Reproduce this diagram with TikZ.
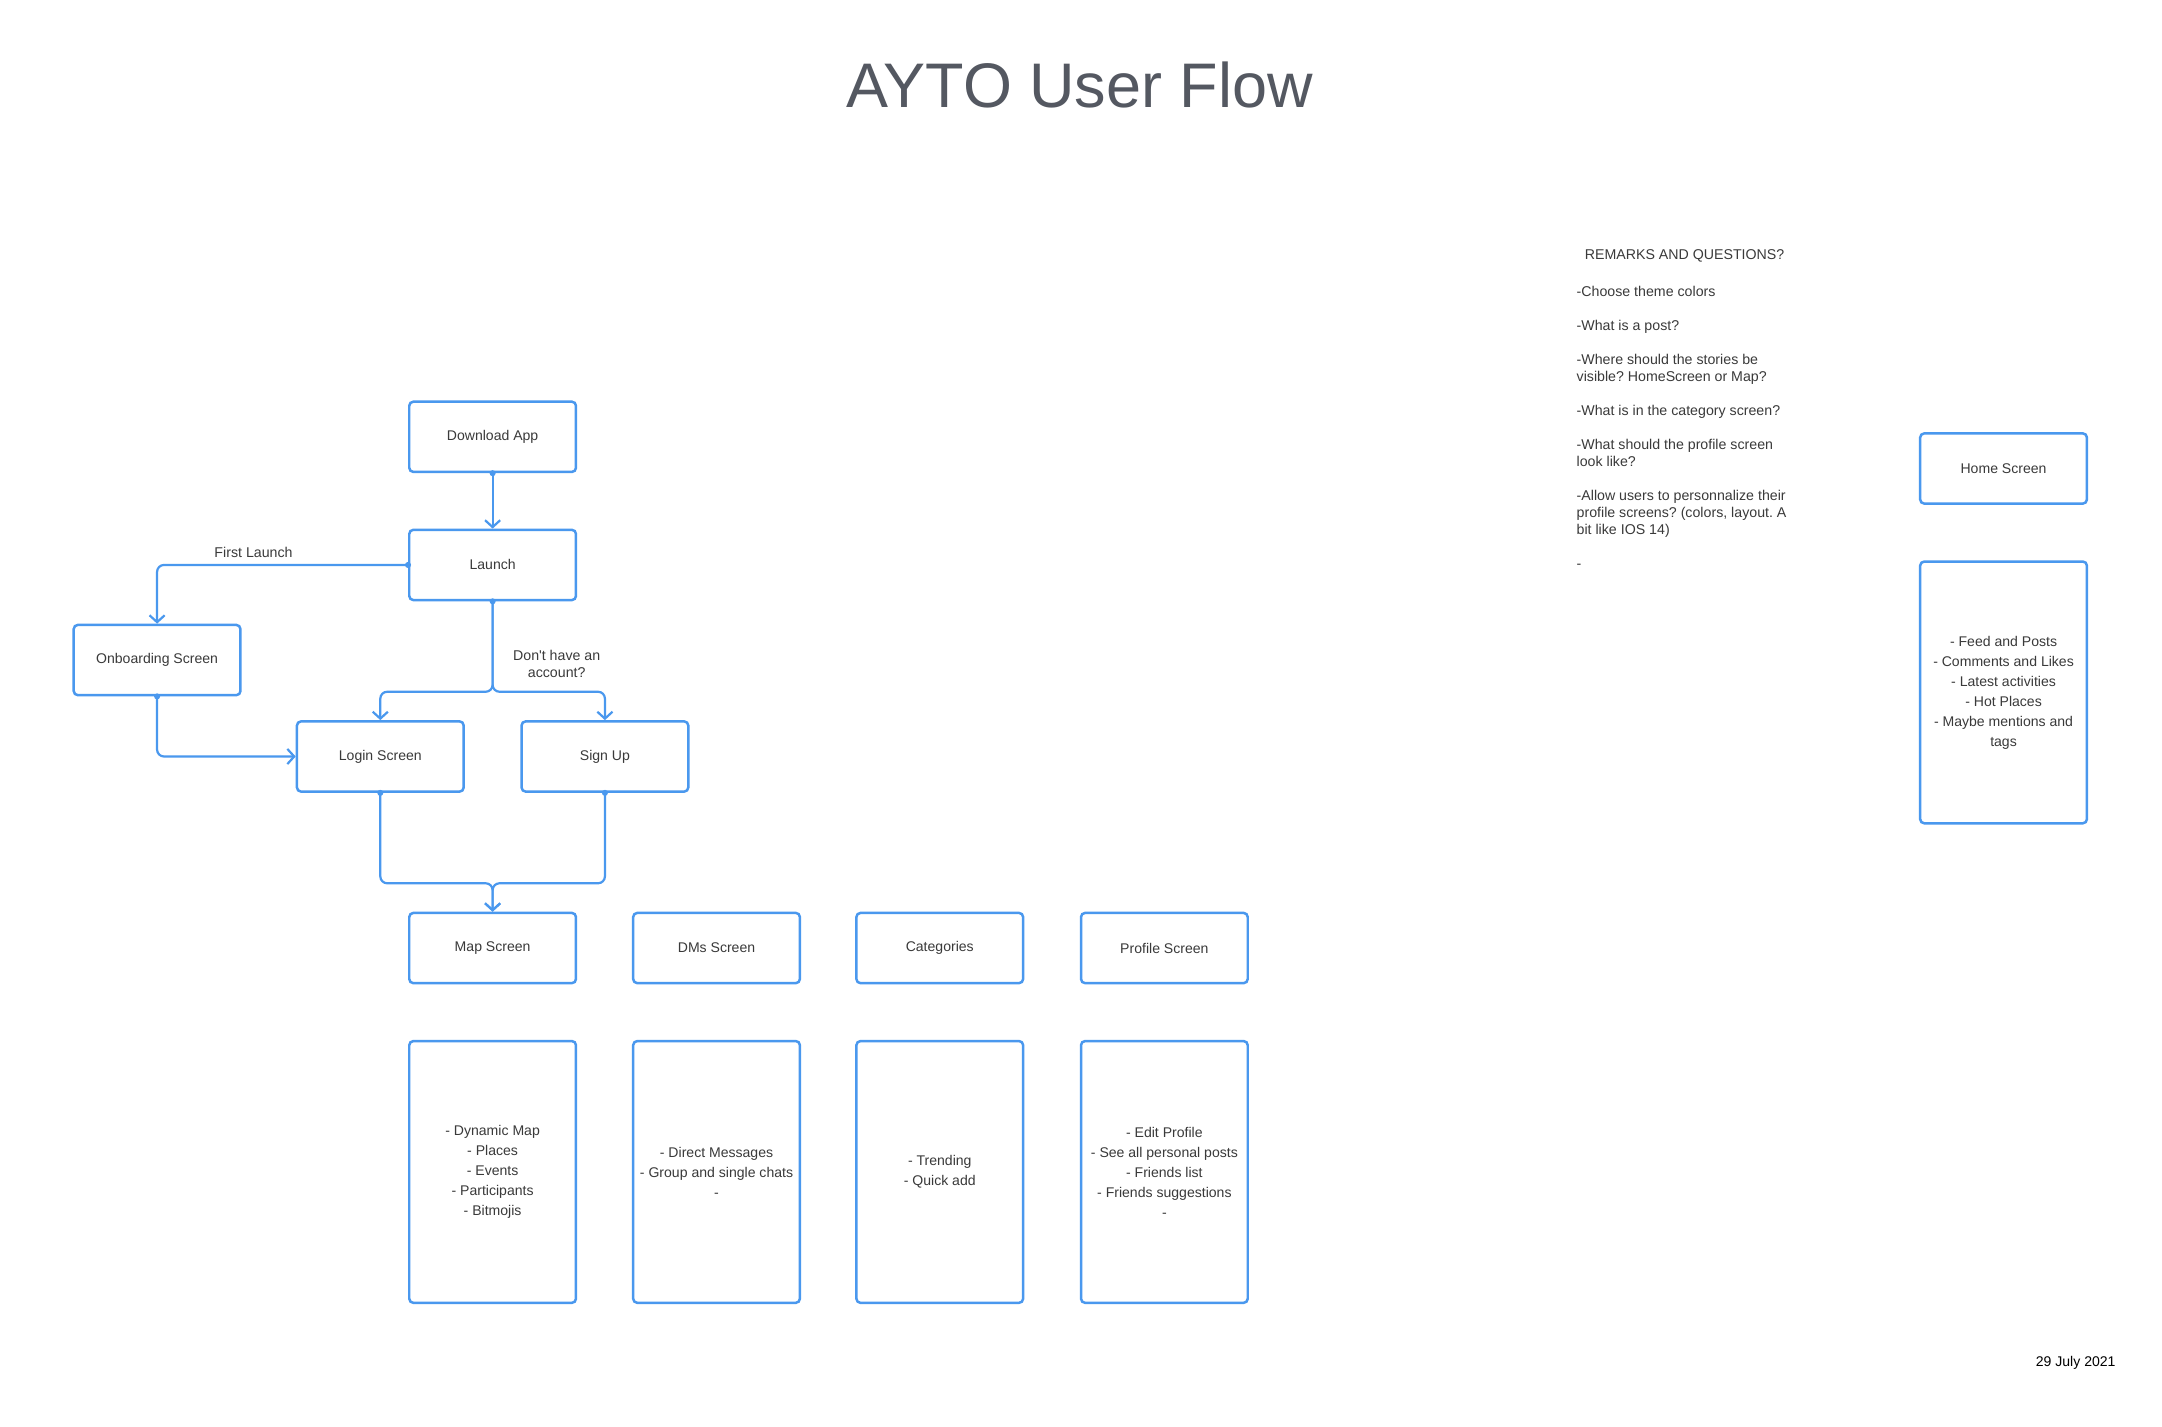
\documentclass[tikz,border=0pt]{standalone}
\usepackage{fontspec}
\setmainfont{Liberation Sans}
\usepackage{tikz}
\usetikzlibrary{arrows.meta, positioning}
\frenchspacing
\definecolor{flowblue}{RGB}{74,152,238}
\definecolor{textgray}{RGB}{58,58,58}
\definecolor{titlegray}{RGB}{84,88,97}
\tikzstyle{screen} = [rectangle, draw = flowblue, line width = 1.8pt, rounded corners = 3pt, minimum width = 121pt, minimum height = 51pt, inner sep = 0pt, text = textgray, font = \fontsize{10.2}{12}\selectfont]
\tikzstyle{content} = [screen, minimum height = 190pt, align = center, font = \fontsize{10.2}{14.5}\selectfont]
\tikzstyle{post} = [-{Straight Barb[length = 5pt, width = 11pt]}, draw = flowblue, line width = 1.6pt, rounded corners = 5pt]
\tikzstyle{dot} = [fill = flowblue]
\tikzstyle{note} = [text = textgray, inner sep = 0pt, font = \fontsize{10.3}{12.4}\selectfont]

\begin{document}
\begin{tikzpicture}[x = 1pt, y = -1pt, node distance = 93pt]
        \fill[white] (0, 0) rectangle (1569, 1035);
        \useasboundingbox (0, 0) rectangle (1569, 1035);
        % draw title
        \node[text = titlegray, font = \fontsize{45.7}{50}\selectfont] (title) at (783.5, 62) {AYTO User Flow};
        
        % draw flow nodes
        \node[screen] (dl) at (357.5, 317) {Download App};
        \node[screen] (la) [below of = dl] {Launch};
        \node[screen] (ob) at (114, 479) {Onboarding Screen};
        \node[screen] (li) at (276, 549) {Login Screen};
        \node[screen] (su) at (439, 549) {Sign Up};
        \node[screen] (map) at (357.5, 688) {Map Screen};
        \node[screen] (dm) at (520, 688) {DMs Screen};
        \node[screen] (cat) at (682, 688) {Categories};
        \node[screen] (prof) at (845, 688) {Profile Screen};
        \node[screen] (home) at (1454, 340) {Home Screen};
        
        % draw content of each screen
        \node[content] (mapc) at (357.5, 850.5) {- Dynamic Map\\- Places\\- Events\\- Participants\\- Bitmojis};
        \node[content] (dmc) at (520, 850.5) {- Direct Messages\\- Group and single chats\\-};
        \node[content] (catc) at (682, 850.5) {- Trending\\- Quick add};
        \node[content] (profc) at (845, 850.5) {- Edit Profile\\- See all personal posts\\- Friends list\\- Friends suggestions\\-};
        \node[content] (homec) at (1454, 502.5) {- Feed and Posts\\- Comments and Likes\\- Latest activities\\- Hot Places\\- Maybe mentions and\\tags};
        
        % draw arrows and add label on arrows
        \draw[post] (dl) -- (la);
        \draw[post] (la.west) -| (ob.north);
        \node[note] (fl) at (184, 401) {First Launch};
        \coordinate (split) at (357.5, 502);
        \draw[post] (la.south) -- (split) -| (li.north);
        \draw[post] (la.south) -- (split) -| (su.north);
        \node[note, align = center] (acc) at (404, 482) {Don\textquotesingle t have an\\account?};
        \draw[post] (ob.south) |- (li.west);
        \coordinate (merge) at (357.5, 641);
        \draw[post] (li.south) |- (merge) -- (map.north);
        \draw[post] (su.south) |- (merge) -- (map.north);
        % draw start dots
        \fill[dot] (dl.south) circle (2.2pt) (la.west) circle (2.2pt) (la.south) circle (2.2pt)
            (ob.south) circle (2.2pt) (li.south) circle (2.2pt) (su.south) circle (2.2pt);
        
        % draw remarks
        \node[note] (rqt) at (1222.5, 186) {REMARKS AND QUESTIONS?};
        \node[note, anchor = north west, align = left] (rq) at (1144, 207.5) {-Choose theme colors\\[12.2pt]
            -What is a post?\\[12.2pt]
            -Where should the stories be\\visible? HomeScreen or Map?\\[12.2pt]
            -What is in the category screen?\\[12.2pt]
            -What should the profile screen\\look like?\\[12.2pt]
            -Allow users to personnalize their\\profile screens? (colors, layout. A\\bit like IOS 14)\\[12.2pt]
            -};
        
        % draw date
        \node[font = \fontsize{10.2}{12}\selectfont, inner sep = 0pt, anchor = base east] (date) at (1535.5, 992) {29 July 2021};
    \end{tikzpicture}
\end{document}
